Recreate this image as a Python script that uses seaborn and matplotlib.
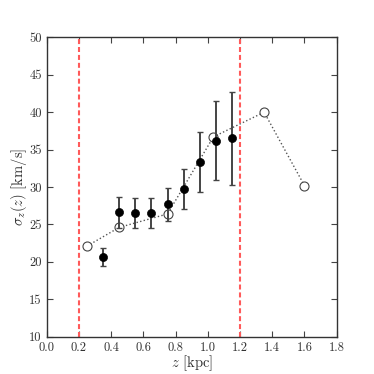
import matplotlib
matplotlib.use("Agg")
import matplotlib.pyplot as plt
import seaborn as sns
import pandas as pd
import numpy as np

# Model (open circles, dotted line)
model_z = [0.25, 0.45, 0.75, 1.035, 1.35, 1.6]
model_sigma = [22.1, 24.6, 26.4, 36.7, 40.0, 30.2]

# Data (filled circles with error bars)
data_z = [0.35, 0.45, 0.55, 0.65, 0.75, 0.85, 0.95, 1.05, 1.15]
data_sigma = [20.6, 26.6, 26.5, 26.5, 27.7, 29.7, 33.3, 36.2, 36.5]
data_err = [1.2, 2.05, 2.0, 2.0, 2.2, 2.7, 4.0, 5.3, 6.2]

# Vertical limits
vlines = [0.2, 1.2]

xticks = [0.0, 0.2, 0.4, 0.6, 0.8, 1.0, 1.2, 1.4, 1.6, 1.8]
yticks = [10, 15, 20, 25, 30, 35, 40, 45, 50]

sns.set_style("ticks")
plt.rcParams['font.family'] = ['cmr10']
plt.rcParams['mathtext.fontset'] = 'cm'
plt.rcParams['axes.formatter.use_mathtext'] = True

fig = plt.figure(figsize=(3.74, 3.74), dpi=100)
ax = fig.add_axes([0.125, 0.1, 0.775, 0.8])

for v in vlines:
    ax.axvline(v, color='#ff5a5a', ls='--', lw=1.5, dashes=(2.4, 1.4), zorder=1)

dm = pd.DataFrame({'z': model_z, 's': model_sigma})
sns.lineplot(data=dm, x='z', y='s', ax=ax, color='#555555', lw=1.0,
             linestyle=':', marker='o', markersize=6.5, markerfacecolor='white',
             markeredgecolor='#444444', markeredgewidth=0.8, zorder=3)

ax.errorbar(data_z, data_sigma, yerr=data_err, fmt='none', ecolor='#444444',
            elinewidth=1.4, capsize=2, capthick=1.0, zorder=4)
dd = pd.DataFrame({'z': data_z, 's': data_sigma})
sns.scatterplot(data=dd, x='z', y='s', ax=ax, color='black', s=34,
                edgecolor='black', zorder=5)

ax.set_xlim(0, 1.8)
ax.set_ylim(10, 50)
ax.set_xticks(xticks)
ax.set_yticks(yticks)
ax.set_xticklabels([f"{t:.1f}" for t in xticks])
ax.set_yticklabels([str(t) for t in yticks])
ax.tick_params(direction='in', top=True, right=True, length=4, width=0.8,
               labelsize=9, colors='#444444', labelcolor='#333333')
for sp in ax.spines.values():
    sp.set_color('#333333')
    sp.set_linewidth(1.0)
ax.set_xlabel(r'$z$ [kpc]', fontsize=10.5, color='#333333', labelpad=0)
ax.set_ylabel(r'$\sigma_z(z)$ [km/s]', fontsize=10.5, color='#333333', labelpad=0)

fig.savefig('out.png', dpi=100)
